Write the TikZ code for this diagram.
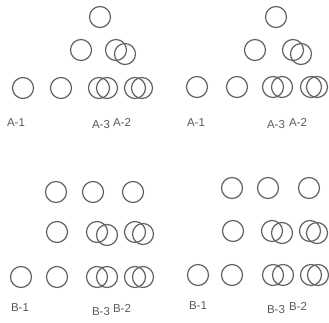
\documentclass[tikz,border=0pt]{standalone}
\usepackage{fontspec}
\setmainfont{Liberation Sans}
\definecolor{ringgrey}{RGB}{100,100,100}
\definecolor{labelgrey}{RGB}{90,90,90}
\usepackage{tikz}

\begin{document}
\begin{tikzpicture}[x=1pt,y=-1pt,
        ring/.style={circle,draw=ringgrey,line width=1.25pt,minimum size=21pt,inner sep=0pt},
        tag/.style={inner sep=0pt,text=labelgrey,font=\fontsize{11.5}{13}\selectfont}
    ]
        \useasboundingbox (0,0) rectangle (329,323);

        % Panel A, left
        \node[ring] (al1) at (100,17) {};
        \node[ring] (al2) at (81,50) {};
        \node[ring] (al3) at (116,50) {};
        \node[ring] (al4) at (125,54) {};
        \node[ring] (al5) at (23,88) {};
        \node[ring] (al6) at (61,88) {};
        \node[ring] (al7) at (99,88) {};
        \node[ring] (al8) at (107,88) {};
        \node[ring] (al9) at (135,88) {};
        \node[ring] (al10) at (142,88) {};
        \node[tag] (alone) at (16,123) {A-1};
        \node[tag] (althree) at (101,125) {A-3};
        \node[tag] (altwo) at (122,122) {A-2};

        % Panel A, right
        \node[ring] (ar1) at (276,17) {};
        \node[ring] (ar2) at (255,50) {};
        \node[ring] (ar3) at (293,50) {};
        \node[ring] (ar4) at (301,54) {};
        \node[ring] (ar5) at (197,87) {};
        \node[ring] (ar6) at (237,87) {};
        \node[ring] (ar7) at (273,87) {};
        \node[ring] (ar8) at (282,87) {};
        \node[ring] (ar9) at (311,87) {};
        \node[ring] (ar10) at (317,87) {};
        \node[tag] (arone) at (196,123) {A-1};
        \node[tag] (arthree) at (276,125) {A-3};
        \node[tag] (artwo) at (298,122) {A-2};

        % Panel B, left
        \node[ring] (bl1) at (56,192) {};
        \node[ring] (bl2) at (93,192) {};
        \node[ring] (bl3) at (133,192) {};
        \node[ring] (bl4) at (57,232) {};
        \node[ring] (bl5) at (97,232) {};
        \node[ring] (bl6) at (107,235) {};
        \node[ring] (bl7) at (135,232) {};
        \node[ring] (bl8) at (143,234) {};
        \node[ring] (bl9) at (21,277) {};
        \node[ring] (bl10) at (57,277) {};
        \node[ring] (bl11) at (97,277) {};
        \node[ring] (bl12) at (107,277) {};
        \node[ring] (bl13) at (135,277) {};
        \node[ring] (bl14) at (143,277) {};
        \node[tag] (blone) at (20,308) {B-1};
        \node[tag] (blthree) at (101,312) {B-3};
        \node[tag] (bltwo) at (122,308) {B-2};

        % Panel B, right
        \node[ring] (br1) at (232,188) {};
        \node[ring] (br2) at (268,188) {};
        \node[ring] (br3) at (309,188) {};
        \node[ring] (br4) at (233,231) {};
        \node[ring] (br5) at (272,231) {};
        \node[ring] (br6) at (282,233) {};
        \node[ring] (br7) at (310,231) {};
        \node[ring] (br8) at (317,233) {};
        \node[ring] (br9) at (198,275) {};
        \node[ring] (br10) at (232,275) {};
        \node[ring] (br11) at (273,275) {};
        \node[ring] (br12) at (283,275) {};
        \node[ring] (br13) at (311,275) {};
        \node[ring] (br14) at (318,275) {};
        \node[tag] (brone) at (198,306) {B-1};
        \node[tag] (brthree) at (276,310) {B-3};
        \node[tag] (brtwo) at (298,306) {B-2};
    \end{tikzpicture}
\end{document}
